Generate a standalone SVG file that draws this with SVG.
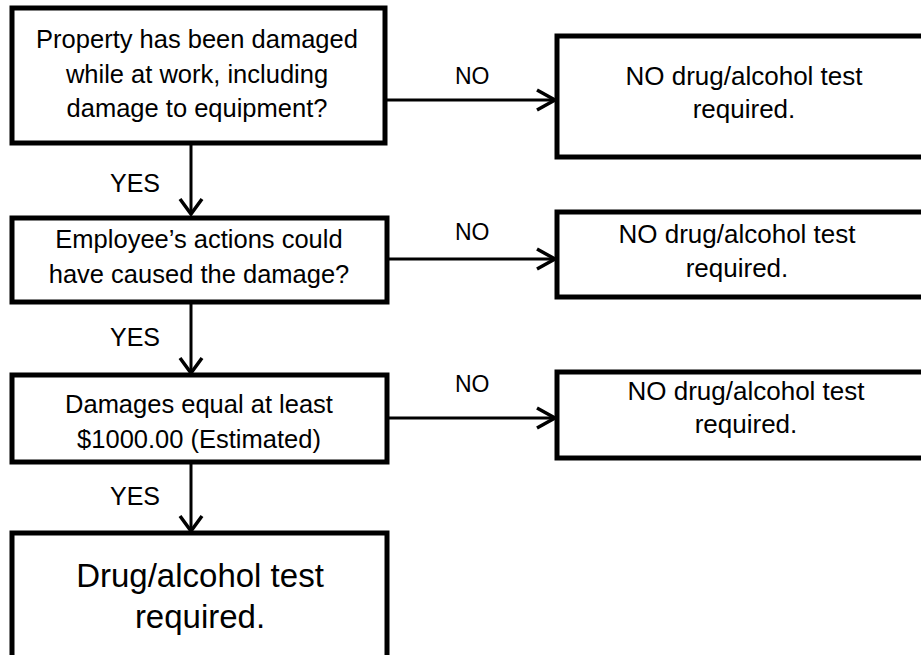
<svg xmlns="http://www.w3.org/2000/svg" width="921" height="655" viewBox="0 0 921 655">
<style>
.box{fill:#fff;stroke:#000;stroke-width:5}
.t{font-family:"Liberation Sans",Arial,sans-serif;font-size:25.5px;fill:#000;text-anchor:middle}
.r{font-size:26px}
.big{font-size:33px}
.lbl{font-family:"Liberation Sans",Arial,sans-serif;font-size:23px;fill:#000}
.yes{font-size:25px}
.ln{fill:none;stroke:#000;stroke-width:3}
.ah{fill:none;stroke:#000;stroke-width:3.5;stroke-linejoin:miter}
</style>
<rect width="921" height="655" fill="#fff"/>
<g id="connectors">
<line class="ln" x1="387" y1="100" x2="555" y2="100"/>
<polyline class="ah" points="537,90 555,100 537,110"/>
<line class="ln" x1="191" y1="145" x2="191" y2="214"/>
<polyline class="ah" points="180,199 191,214 202,199"/>
<line class="ln" x1="389" y1="259" x2="555" y2="259"/>
<polyline class="ah" points="537,249 555,259 537,269"/>
<line class="ln" x1="191" y1="303" x2="191" y2="373"/>
<polyline class="ah" points="180,358 191,373 202,358"/>
<line class="ln" x1="389" y1="418" x2="555" y2="418"/>
<polyline class="ah" points="537,408 555,418 537,428"/>
<line class="ln" x1="191" y1="463" x2="191" y2="531"/>
<polyline class="ah" points="180,516 191,531 202,516"/>
<text class="lbl" x="455" y="84">NO</text>
<text class="lbl yes" x="110" y="192">YES</text>
<text class="lbl" x="455" y="240">NO</text>
<text class="lbl yes" x="110" y="346">YES</text>
<text class="lbl" x="455" y="392">NO</text>
<text class="lbl yes" x="110" y="505">YES</text>
</g>
<g id="q1">
<rect class="box" x="12" y="8" width="373" height="135"/>
<text class="t" x="197" y="48">Property has been damaged</text>
<text class="t" x="197" y="83">while at work, including</text>
<text class="t" x="197" y="117">damage to equipment?</text>
</g>
<g id="no1">
<rect class="box" x="557" y="36" width="380" height="121"/>
<text class="t r" x="744" y="85">NO drug/alcohol test</text>
<text class="t r" x="744" y="118">required.</text>
</g>
<g id="q2">
<rect class="box" x="12" y="218" width="375" height="84"/>
<text class="t" x="199" y="248">Employee’s actions could</text>
<text class="t" x="199" y="283">have caused the damage?</text>
</g>
<g id="no2">
<rect class="box" x="557" y="212" width="380" height="85"/>
<text class="t r" x="737" y="243">NO drug/alcohol test</text>
<text class="t r" x="737" y="277">required.</text>
</g>
<g id="q3">
<rect class="box" x="12" y="375" width="375" height="87"/>
<text class="t" x="199" y="413">Damages equal at least</text>
<text class="t" x="199" y="448">$1000.00 (Estimated)</text>
</g>
<g id="no3">
<rect class="box" x="557" y="372" width="380" height="86"/>
<text class="t r" x="746" y="400">NO drug/alcohol test</text>
<text class="t r" x="746" y="433">required.</text>
</g>
<g id="result">
<rect class="box" x="12" y="533" width="375" height="130"/>
<text class="t big" x="200" y="587">Drug/alcohol test</text>
<text class="t big" x="200" y="628">required.</text>
</g>
</svg>
